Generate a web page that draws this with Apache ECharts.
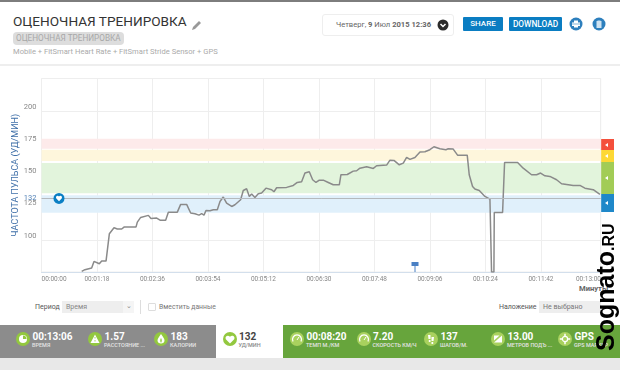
<!doctype html>
<html>

<head>
    <meta charset="utf-8">
    <title>Оценочная тренировка</title>
    <script type="text/javascript" src="https://cdn.jsdelivr.net/npm/echarts@6/dist/echarts.min.js"></script>
    <style>
        html, body { margin: 0; padding: 0; background: #fff; overflow: hidden; }
        #page { position: relative; width: 620px; height: 370px; overflow: hidden; font-family: Roboto, sans-serif; color: #555; }
        #tb { position: absolute; left: 0; top: 0; width: 620px; height: 370px; }
        .a { position: absolute; white-space: nowrap; }
        .val { font-weight: 700; font-size: 10px; color: #fff; line-height: 10px; }
        .cap { font-size: 5.5px; color: #e4e4e4; line-height: 7px; font-weight: 500; }
        .tab { position: absolute; left: 601px; width: 13px; }
        .tab i { position: absolute; left: 4px; top: 50%; margin-top: -2px; border: 2px solid transparent; border-right: 3px solid #fff; border-left: 0; }
    </style>
</head>

<body>
    <div id="page">
        <div class="a" style="left:0;top:0;width:620px;height:1.5px;background:#7d7d7d"></div>
        <div class="a" style="left:0;top:64px;width:620px;height:2px;background:#eee"></div>
        <div class="a" style="left:13px;top:12px;font-size:13.600px;line-height:18px;color:#333">ОЦЕНОЧНАЯ ТРЕНИРОВКА</div>
        <svg class="a" style="left:191px;top:19px" width="12" height="12" viewBox="0 0 12 12"><path d="M1 11l1-3 6-6 2 2-6 6z" fill="#999"/></svg>
        <div class="a" style="left:13px;top:32px;width:111px;height:13px;background:#ddd;border-radius:4px;font-size:8.200px;line-height:13px;color:#a8a8a8;text-indent:3px">ОЦЕНОЧНАЯ ТРЕНИРОВКА</div>
        <div class="a" style="left:13px;top:46px;font-size:7.600px;line-height:11px;color:#aaa">Mobile + FitSmart Heart Rate + FitSmart Stride Sensor + GPS</div>

        <div class="a" style="left:322px;top:14px;width:130px;height:20px;border:1px solid #eee;border-radius:3px"></div>
        <div class="a" style="left:336px;top:20px;font-size:7.600px;line-height:10px;color:#666">Четверг, <b>9</b> Июл <b>2015 12:36</b></div>
        <svg class="a" style="left:437px;top:19px" width="12" height="12" viewBox="0 0 12 12"><circle cx="6" cy="6" r="5.500" fill="#2b2b2b"/><path d="M3.500 5l2.500 2.500L8.500 5" stroke="#fff" stroke-width="1.500" fill="none"/></svg>
        <div class="a" style="left:463px;top:17px;width:40px;height:14px;background:#0a7dc2;border-radius:1px;font-size:8px;font-weight:500;line-height:14px;color:#fff;text-align:center">SHARE</div>
        <div class="a" style="left:509px;top:17px;width:53px;height:14px;background:#0a7dc2;border-radius:1px;font-size:8.300px;font-weight:500;line-height:14px;color:#fff;text-align:center">DOWNLOAD</div>
        <svg class="a" style="left:569px;top:17px" width="14" height="14" viewBox="0 0 14 14"><circle cx="7" cy="7" r="6.500" fill="#2d7fbd"/><path d="M5 3.500h4v2h2v3.500H3V5.500h2zM5 8h4v2.500H5z" fill="#fff"/><path d="M3 7h8" stroke="#2d7fbd" stroke-width=".6"/></svg>
        <svg class="a" style="left:592px;top:17px" width="14" height="14" viewBox="0 0 14 14"><circle cx="7" cy="7" r="6.500" fill="#2d7fbd"/><path d="M4.500 4h5v7h-5zM5.500 3h3v.6h-3z" fill="#cfe3f2"/></svg>

        <div class="tab" style="top:139px;height:11px;background:#f4503c"><i></i></div>
        <div class="tab" style="top:150px;height:12px;background:#fdd835"><i></i></div>
        <div class="tab" style="top:162px;height:32px;background:#a2cc56"><i></i></div>
        <div class="tab" style="top:194px;height:18px;background:#1f88c9"><i></i></div>

        <div class="a" style="left:579px;top:284px;font-size:7.600px;font-weight:700;line-height:9px;color:#666">Минуты</div>

        <div class="a" style="left:35px;top:302px;font-size:7px;line-height:10px;color:#555">Период</div>
        <div class="a" style="left:62px;top:301px;width:72px;height:12px;background:#eee;font-size:7px;line-height:12px;color:#888;text-indent:4px">Время</div>
        <div class="a" style="left:123px;top:301px;width:11px;height:12px;background:#f5f5f5;color:#888;font-size:7px;line-height:11px;text-align:center">⌄</div>
        <div class="a" style="left:140px;top:300px;width:1px;height:14px;background:#ddd"></div>
        <div class="a" style="left:148px;top:303px;width:6px;height:6px;border:1px solid #ddd;border-radius:1px"></div>
        <div class="a" style="left:159px;top:302px;font-size:6.800px;line-height:10px;color:#777">Вместить данные</div>
        <div class="a" style="left:499px;top:302px;font-size:7px;line-height:10px;color:#555">Наложение</div>
        <div class="a" style="left:539px;top:301px;width:62px;height:12px;background:#eee;font-size:7px;line-height:12px;color:#777;text-indent:4px">Не выбрано</div>

        <div class="a" style="left:0;top:358px;width:620px;height:12px;background:#e8e8e8"></div>
        <div class="a" style="left:0;top:325px;width:216px;height:33px;background:#8c8c8c"></div>
        <div class="a" style="left:216px;top:325px;width:67px;height:33px;background:#fff"></div>
        <div class="a" style="left:283px;top:325px;width:337px;height:33px;background:#67a53c"></div>
        <div id="stats"></div>

        <div id="tb"></div>

        <div class="a" style="left:592.500px;top:351px;transform-origin:0 0;transform:rotate(-90deg);font-family:'Liberation Sans',sans-serif;font-weight:700;color:#000;font-size:25px;line-height:24px">Sognato<span style="font-size:16px">.RU</span></div>
    </div>
    <script>
        // время, сек
        var times = [56.5, 61, 70.5, 73.8, 81.3, 84.6, 90.7, 95.4, 101.9, 106.6, 112.7, 116, 125.3, 132.8, 134.7, 139.4, 150.2, 153.9, 161.9, 166.6, 174.5, 178.3, 190.9, 195.6, 204, 209.7, 215.7, 221.4, 225.1, 228.4, 231.2, 236.8, 241.5, 247.1, 250.9, 255.5, 260.2, 267.3, 271.9, 279.9, 283.6, 288.3, 292.1, 295.4, 300, 304.7, 309.4, 315.5, 323.5, 326.7, 330.5, 344.5, 353.9, 359.5, 365.6, 370.3, 376.4, 381.1, 385.8, 390.5, 396.1, 403.1, 410.1, 418.6, 420.9, 429.8, 438.2, 442.9, 447.6, 457, 466.4, 471, 485.1, 489.8, 495.4, 502.9, 508.5, 513.2, 517.9, 524.9, 532, 538.9, 545.9, 551.6, 560, 568.4, 571.7, 578.7, 584.8, 598.4, 601.2, 605.9, 609.2, 615.3, 623.3, 630.3, 632.6, 635.9, 636.4, 648.1, 650.9, 669.2, 677.1, 688.8, 695.9, 701.5, 707.6, 714.6, 724, 731, 747.4, 756.8, 763.8, 775.5, 784.9];
        // пульс, уд/мин
        var pulse = [75.5, 76.8, 78.1, 83.2, 81.4, 83.5, 83.5, 104.7, 109.3, 108.3, 108.3, 109.8, 109.8, 109.8, 113.7, 117.3, 118.9, 116.5, 116.8, 115.2, 115.2, 121.4, 121.4, 127.4, 127.4, 120.7, 120.2, 119.1, 120.2, 119.1, 122.7, 122.5, 123.3, 123.3, 129.7, 133.1, 128.4, 125.8, 127.1, 131, 138.2, 139.5, 133.6, 135.4, 132.8, 135.7, 136.2, 140, 138.8, 137.2, 140.3, 140.6, 142.1, 144.4, 145, 151.7, 152.7, 146.5, 144.4, 146.2, 146.2, 144.4, 142.6, 142.6, 150.4, 150.6, 153.2, 153.5, 155.5, 156.6, 155.3, 157.4, 157.9, 161.7, 161.5, 158.1, 159.4, 163.8, 162.3, 163.8, 168, 168.2, 169.8, 172.1, 170.5, 169.8, 170.5, 170.3, 165.6, 165.6, 150.4, 141.3, 139.3, 138.2, 133.6, 131.5, 75, 75, 121.2, 121.2, 159.9, 159.9, 155.5, 150.4, 150.4, 151.7, 149.6, 149.1, 146.5, 143.4, 142.1, 142.1, 140, 138.8, 135.1];
        var yTickLabels = [100, 125, 150, 175, 200];
        var avgPulse = 132;
        var heartMarkTime = 24.6;
        var flagTime = 525;
        // зоны пульса
        var zoneLow = [170.5, 161, 136, 121];
        var zoneHigh = [178.3, 169.8, 159.5, 134.5];
        var zoneColors = ['#fdeaea', '#fef6dc', '#e2f4dc', '#e0f0fb'];

        // блоки снизу
        var statValues = ['00:13:06', '1.57', '183', '132', '00:08:20', '7.20', '137', '13.00', 'GPS'];
        var statCaptions = ['ВРЕМЯ', 'РАССТОЯНИЕ ...', 'КАЛОРИИ', 'УД/МИН', 'ТЕМП М./КМ', 'СКОРОСТЬ КМ/Ч', 'ШАГОВ/М.', 'МЕТРОВ ПОДЪ ...', 'GPS МАРКЕР'];
        var statX = [23, 95, 161, 229.5, 297, 363.5, 431, 498, 565];
        var statIcons = [
            '<circle cx="7" cy="7" r="4" fill="#fff"/><path d="M7 7V3.500A3.500 3.500 0 0 1 10.500 7z" fill="#93c83f"/>',
            '<path d="M7 2.500L11.500 11h-9z" fill="#fff"/><path d="M7 5v1.500M7 8v1.500" stroke="#93c83f" stroke-width=".8"/>',
            '<path d="M7 2C9 5 10.500 6.500 10.500 8.500C10.500 10.500 9 11.500 7 11.500C5 11.500 3.500 10.500 3.500 8.500C3.500 6.500 5 5 7 2z" fill="#fff"/><path d="M7 6C7.800 7.500 8.300 8.500 7 11C5.700 8.500 6.200 7.500 7 6z" fill="#93c83f"/>',
            '<path d="M7 11.500L2.800 7.200C1.500 4.800 4.800 2.500 7 4.800C9.200 2.500 12.500 4.800 11.200 7.200z" fill="#fff"/>',
            '<path d="M3 9.500A4.500 4.500 0 1 1 11 9.500" fill="none" stroke="#fff" stroke-width="1.300"/><path d="M7 8L9 5" stroke="#fff"/>',
            '<path d="M3 9.500A4.500 4.500 0 1 1 11 9.500" fill="none" stroke="#fff" stroke-width="1.300"/><path d="M7 8L9 5" stroke="#fff"/>',
            '<path d="M4 3h2.500v4H4.500zM4.800 8h1.700v2H4.800zM7.500 5h2.500l-.5 4H7.500zM7.500 10h1.700v2H7.500z" fill="#fff"/>',
            '<path d="M3 10.500L11 3.500v7z" fill="#fff"/><path d="M3 8.500V3.500h5.500z" fill="#fff"/>',
            '<circle cx="7" cy="7" r="2.600" fill="none" stroke="#fff" stroke-width="1.200"/><path d="M7 1.800v2.200M7 10v2.200M1.800 7H4M10 7h2.200" stroke="#fff" stroke-width="1.500"/>',
        ];

        var html = '';
        for (var i = 0; i < statValues.length; i++) {
            var dark = i === 3;
            var fill = i < 4 ? '#93c83f' : '#a9d15e';
            var x = statX[i];
            html += '<svg class="a" style="left:' + (x - 7) + 'px;top:332px" width="14" height="14" viewBox="0 0 14 14"><circle cx="7" cy="7" r="7" fill="' + fill + '"/>' + statIcons[i] + '</svg>';
            html += '<div class="a val" style="left:' + (x + 9.5) + 'px;top:332px' + (dark ? ';color:#444' : '') + '">' + statValues[i] + '</div>';
            html += '<div class="a cap" style="left:' + (x + 9) + 'px;top:342px' + (dark ? ';color:#888' : '') + '">' + statCaptions[i] + '</div>';
        }
        document.getElementById('stats').innerHTML = html;

        var points = [];
        for (var j = 0; j < times.length; j++) {
            points.push([times[j], pulse[j]]);
        }
        var zones = [];
        for (var k = 0; k < zoneLow.length; k++) {
            zones.push([{ yAxis: zoneLow[k], itemStyle: { color: zoneColors[k] } }, { yAxis: zoneHigh[k] }]);
        }

        function pad(n) {
            return (n < 10 ? '0' : '') + n;
        }

        var heartPath = 'path://M7 12L1.500 6.500C-1 3 4 -1 7 2.500C10 -1 15 3 12.500 6.500z';
        var flagPath = 'path://M0 0h7v4H4v6H3V4H0z';
        var g = '#eee';

        var btchart = echarts.init(document.getElementById('tb'));
        btchart.setOption({
            animation: false,
            backgroundColor: 'transparent',
            grid: {
                show: true,
                left: 41.5,
                right: 19.3,
                top: 78.5,
                bottom: 98,
                outerBoundsMode: 'none',
                borderColor: '#eee',
                borderWidth: 1,
            },
            xAxis: {
                type: 'value',
                min: 0,
                max: 786,
                interval: 78,
                axisLine: { onZero: false, lineStyle: { color: '#d3dfec' } },
                axisTick: { show: false },
                // у последней метки 00:13:00 линии нет
                splitLine: { lineStyle: { color: [g, g, g, g, g, g, g, g, g, g, 'transparent'] } },
                axisLabel: {
                    color: '#888',
                    fontSize: 6.5,
                    fontFamily: 'Roboto',
                    margin: 4,
                    alignMinLabel: 'left',
                    rich: {
                        last: { color: '#888', fontSize: 6.5, fontFamily: 'Roboto', padding: [0, 16, 0, 0] },
                    },
                    formatter: function (v) {
                        if (v > 780) return '';
                        var s = pad(Math.floor(v / 3600)) + ':' + pad(Math.floor(v / 60) % 60) + ':' + pad(v % 60);
                        return v === 780 ? '{last|' + s + '}' : s;
                    },
                },
            },
            yAxis: {
                type: 'value',
                min: 75,
                max: 225,
                interval: 25,
                name: 'ЧАСТОТА ПУЛЬСА (УД/МИН)',
                nameLocation: 'middle',
                nameGap: 21,
                nameMoveOverlap: false,
                nameTextStyle: { color: '#3f6fa8', fontSize: 9, fontFamily: 'Roboto' },
                axisLine: { show: false },
                axisTick: { show: false },
                splitLine: { lineStyle: { color: '#eee' } },
                axisLabel: {
                    color: '#888',
                    fontSize: 7.5,
                    fontFamily: 'Roboto',
                    margin: 5,
                    verticalAlign: 'bottom',
                    formatter: function (v) {
                        return yTickLabels.indexOf(v) >= 0 ? String(v) : '';
                    },
                },
            },
            series: [{
                type: 'line',
                data: points,
                symbol: 'none',
                lineStyle: { color: '#8a8a8a', width: 1.5 },
                markArea: {
                    silent: true,
                    z: 1,
                    data: zones,
                },
                markLine: {
                    silent: true,
                    symbol: 'none',
                    animation: false,
                    lineStyle: { color: '#b5b9bd', width: 1, type: 'solid' },
                    label: { position: 'start', color: '#4f7fb5', fontSize: 7.5, fontFamily: 'Roboto', distance: 5 },
                    data: [{ yAxis: avgPulse }],
                },
                markPoint: {
                    silent: true,
                    animation: false,
                    data: [
                        { coord: [heartMarkTime, avgPulse], symbol: 'circle', symbolSize: 11, itemStyle: { color: '#0b7fc4' }, label: { show: false } },
                        { coord: [heartMarkTime, avgPulse], symbol: heartPath, symbolSize: [6, 5.5], itemStyle: { color: '#fff' }, label: { show: false } },
                        { coord: [flagTime, 75], symbol: flagPath, symbolSize: [7, 10], symbolOffset: [0, -5], itemStyle: { color: '#4a80c4' }, label: { show: false } },
                    ],
                },
            }],
        });
    </script>
</body>

</html>
